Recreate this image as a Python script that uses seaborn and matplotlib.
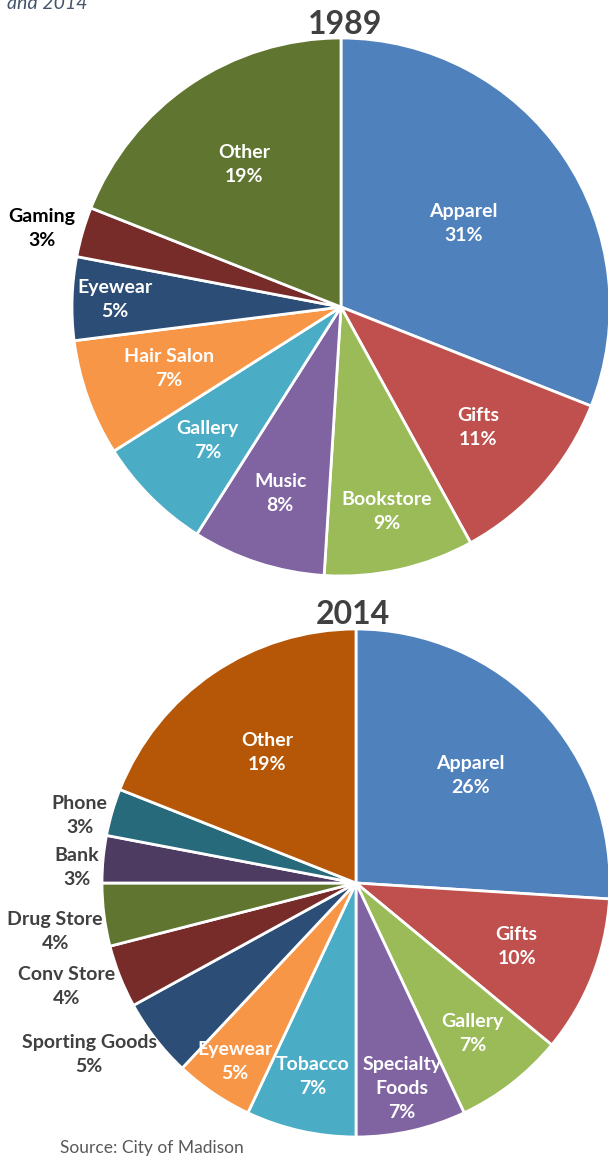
import numpy as np
import matplotlib
matplotlib.use("Agg")
import matplotlib.pyplot as plt
import seaborn as sns

# 1989 storefront mix
labels_1989 = ["Apparel", "Gifts", "Bookstore", "Music", "Gallery",
               "Hair Salon", "Eyewear", "Gaming", "Other"]
values_1989 = [31, 11, 9, 8, 7, 7, 5, 3, 19]
colors_1989 = ["#4F81BD", "#C0504D", "#9BBB59", "#8064A2", "#4BACC6",
               "#F79646", "#2C4D75", "#772C2A", "#5F7530"]

# 2014 storefront mix
labels_2014 = ["Apparel", "Gifts", "Gallery", "Specialty\nFoods", "Tobacco",
               "Eyewear", "Sporting Goods", "Conv Store", "Drug Store",
               "Bank", "Phone", "Other"]
values_2014 = [26, 10, 7, 7, 7, 5, 5, 4, 4, 3, 3, 19]
colors_2014 = ["#4F81BD", "#C0504D", "#9BBB59", "#8064A2", "#4BACC6",
               "#F79646", "#2C4D75", "#772C2A", "#5F7530", "#4D3B62",
               "#276A7C", "#B65708"]

# label placement: distance (fraction of radius) and angle nudge (deg)
dist_1989 = [0.55, 0.68, 0.78, 0.73, 0.70, 0.68, 0.84, 1.15, 0.64]
nudge_1989 = [0, 0, 0, 0, 0, 0, 0, 1.5, 0]
dist_2014 = [0.62, 0.68, 0.75, 0.83, 0.78, 0.85, 1.25, 1.21, 1.20, 1.10, 1.12, 0.62]
nudge_2014 = [0, 0, 0, 0, 0, 0, -5, -2, 2, 2.3, 2.4, 0]

sns.set_theme(style="white")
plt.rcParams["font.family"] = ["Lato", "DejaVu Sans"]

W, H = 608, 1161
fig = plt.figure(figsize=(W / 100, H / 100), dpi=100)


def draw_pie(cx, cy, r, labels, values, colors, dists, nudges, out_color, half=330):
    ax = fig.add_axes([(cx - half) / W, (H - cy - half) / H, 2 * half / W, 2 * half / H])
    wedges, _ = ax.pie(values, colors=colors, startangle=90, counterclock=False,
                       radius=1, wedgeprops=dict(edgecolor="white", linewidth=2))
    lim = half / r
    ax.set_xlim(-lim, lim)
    ax.set_ylim(-lim, lim)
    ax.set_aspect("equal")
    ax.axis("off")
    for w, lab, v, d, n in zip(wedges, labels, values, dists, nudges):
        ang = np.deg2rad((w.theta1 + w.theta2) / 2 + n)
        col = "white" if d < 1 else out_color
        ax.text(d * np.cos(ang), d * np.sin(ang), f"{lab}\n{v}%", ha="center",
                va="center", color=col, fontsize=14, fontweight="bold",
                linespacing=1.5, clip_on=False)
    return ax


ax1 = draw_pie(341, 307, 269, labels_1989, values_1989, colors_1989,
               dist_1989, nudge_1989, "black")
ax2 = draw_pie(356, 883, 254, labels_2014, values_2014, colors_2014,
               dist_2014, nudge_2014, "#404040")

fig.text(345 / W, 1 - 24 / H, "1989", ha="center", va="center", fontsize=23,
         fontweight="bold", color="#404040")
fig.text(353 / W, 1 - 614 / H, "2014", ha="center", va="center", fontsize=23,
         fontweight="bold", color="#404040")
fig.text(7 / W, 1 - 9 / H, "and 2014", ha="left", va="baseline", fontsize=14,
         style="italic", color="#44546A")
fig.text(60 / W, 1 - 1148 / H, "Source: City of Madison", ha="left", va="center",
         fontsize=12.5, color="#595959")

fig.savefig("out.png", dpi=100)
